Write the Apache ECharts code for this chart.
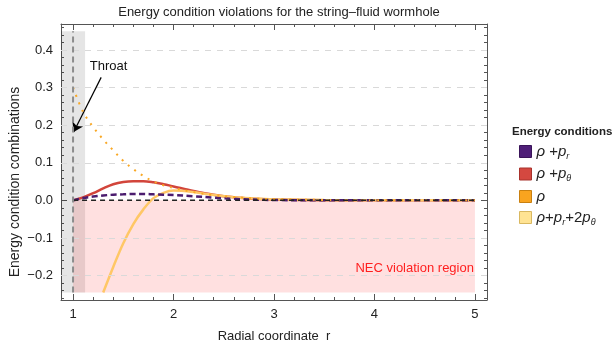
<!DOCTYPE html>
<html>
<head>
<meta charset="utf-8">
<script src="https://cdn.jsdelivr.net/npm/echarts@6/dist/echarts.min.js"></script>
<style>
  html, body { margin: 0; padding: 0; background: #fff; }
  #chart { width: 614px; height: 343px; }
</style>
</head>
<body>
<div id="chart"></div>
<script>
// radial coordinate samples
const r = [1.0, 1.1, 1.2, 1.3, 1.4, 1.5, 1.6, 1.7, 1.8, 1.9, 2.0, 2.2, 2.4, 2.6, 2.8, 3.0, 3.5, 4.0, 4.5, 5.0];
// values
const rhoPr = [0, 0.006, 0.010, 0.013, 0.015, 0.016, 0.017, 0.017, 0.016, 0.015, 0.014, 0.011, 0.007, 0.004, 0.002, 0.001, 0, 0, 0, 0];
const rhoPt = [0, 0.008, 0.019, 0.032, 0.043, 0.049, 0.051, 0.051, 0.048, 0.043, 0.037, 0.025, 0.015, 0.008, 0.004, 0.002, 0.0005, 0, 0, 0];
const rho = [0.30, 0.235, 0.195, 0.162, 0.133, 0.105, 0.083, 0.065, 0.050, 0.040, 0.033, 0.022, 0.014, 0.009, 0.005, 0.003, 0.001, 0, 0, 0];
const rhoSum = [null, null, null, -0.245, -0.177, -0.114, -0.063, -0.024, 0.006, 0.020, 0.026, 0.022, 0.014, 0.008, 0.005, 0.003, 0.001, 0, 0, 0];

const names = ['ρ +p_r', 'ρ +p_θ', 'ρ', 'ρ+p_r+2p_θ'];
const xTicks = [1, 2, 3, 4, 5];
const yTicks = [-0.2, -0.1, 0.0, 0.1, 0.2, 0.3, 0.4];
const gridY = [-0.2, -0.1, 0.1, 0.2, 0.3, 0.4];
const zeroLineX = [1, 5];
const throatX = [1, 1];
const throatY = [-0.245, 0.45];

// minor ticks: 4 between each pair of major ticks
function minors(major, lo, hi) {
  const step = (major[1] - major[0]) / 5;
  const out = [];
  for (let k = -5; k <= (major.length - 1) * 5 + 5; k++) {
    if (k % 5 === 0) continue;
    const val = +(major[0] + k * step).toFixed(4);
    if (val > lo && val < hi) out.push(val);
  }
  return out;
}

const XMIN = 0.88, XMAX = 5.12, YMIN = -0.265, YMAX = 0.469;
const xMinor = minors(xTicks, XMIN, XMAX);
const yMinor = minors(yTicks, YMIN, YMAX);
const frame = '#555';
const font = 'Liberation Sans, Arial, sans-serif';

function pairs(xs, ys) {
  return xs.map((x, i) => [x, ys[i]]);
}

function xAx(pos, major, label) {
  return {
    type: 'value', min: XMIN, max: XMAX, position: pos,
    axisLine: { show: major, onZero: false, lineStyle: { color: frame, width: 1 } },
    axisTick: { show: true, inside: true, length: major ? 6 : 3, customValues: major ? xTicks : xMinor, lineStyle: { color: frame } },
    axisLabel: label ? { show: true, customValues: xTicks, margin: 8, color: '#222', fontSize: 13, fontFamily: font } : { show: false },
    splitLine: { show: false },
    name: label ? 'Radial coordinate  r' : '',
    nameLocation: 'middle', nameGap: 30, nameMoveOverlap: false,
    nameTextStyle: { color: '#222', fontSize: 13, fontFamily: font }
  };
}

function yAx(pos, major, label) {
  return {
    type: 'value', min: YMIN, max: YMAX, position: pos,
    axisLine: { show: major, onZero: false, lineStyle: { color: frame, width: 1 } },
    axisTick: { show: true, inside: true, length: major ? 6 : 3, customValues: major ? yTicks : yMinor, lineStyle: { color: frame } },
    axisLabel: label ? {
      show: true, customValues: yTicks, margin: 8, color: '#222', fontSize: 13, fontFamily: font,
      formatter: v => (v < 0 ? '\u2212' : '') + Math.abs(v).toFixed(1)
    } : { show: false },
    splitLine: { show: false },
    name: label ? 'Energy condition combinations' : '',
    nameLocation: 'middle', nameGap: 39, nameMoveOverlap: false,
    nameTextStyle: { color: '#222', fontSize: 14, fontFamily: font, padding: [0, 40, 0, 0] }
  };
}

const legendRich = {
  i: { fontStyle: 'italic', fontSize: 15, fontFamily: font, color: '#222' },
  n: { fontSize: 15, fontFamily: font, color: '#222' },
  s: { fontStyle: 'italic', fontSize: 9, fontFamily: font, color: '#222', padding: [9, 0, 0, 0] }
};
const legendText = {
  'ρ +p_r': '{i|ρ}{n| +}{i|p}{s|r}',
  'ρ +p_θ': '{i|ρ}{n| +}{i|p}{s|θ}',
  'ρ': '{i|ρ}',
  'ρ+p_r+2p_θ': '{i|ρ}{n|+}{i|p}{s|r}{n|+2}{i|p}{s|θ}'
};
const swatch = [
  { color: '#4f1f78', borderColor: '#3a1459' },
  { color: '#d44840', borderColor: '#a8322c' },
  { color: '#f9a41f', borderColor: '#c98010' },
  { color: '#ffe393', borderColor: '#d9b860' }
];

const chart = echarts.init(document.getElementById('chart'));
chart.setOption({
  animation: false,
  backgroundColor: '#fff',
  title: [
    { text: 'Energy condition violations for the string\u2013fluid wormhole', left: 274, textAlign: 'center', top: 1,
      textStyle: { fontSize: 13, fontWeight: 'normal', color: '#222', fontFamily: font } },
    { text: 'Energy conditions', left: 507, top: 121,
      textStyle: { fontSize: 11.5, fontWeight: 'bold', color: '#222', fontFamily: font } }
  ],
  grid: { left: 61, right: 127, top: 24, bottom: 43, containLabel: false, outerBoundsMode: 'none' },
  legend: {
    orient: 'vertical', left: 514, top: 139, itemGap: 6,
    icon: 'rect', itemWidth: 12, itemHeight: 12,
    data: names.map((n, i) => ({ name: n, itemStyle: { color: swatch[i].color, borderColor: swatch[i].borderColor, borderWidth: 1 } })),
    formatter: n => legendText[n],
    textStyle: { rich: legendRich, lineHeight: 14 },
    selectedMode: false
  },
  xAxis: [xAx('bottom', true, true), xAx('bottom', false, false), xAx('top', true, false), xAx('top', false, false)],
  yAxis: [yAx('left', true, true), yAx('left', false, false), yAx('right', true, false), yAx('right', false, false)],
  series: [
    {
      // background: shaded throat band, NEC region, grid lines
      type: 'line', data: [], silent: true, z: 1,
      markArea: {
        silent: true,
        data: [
          [{ xAxis: XMIN, yAxis: -0.245, itemStyle: { color: 'rgba(0,0,0,0.1)' } }, { xAxis: 1.12, yAxis: 0.45 }],
          [{ xAxis: 1, yAxis: -0.245, itemStyle: { color: 'rgba(255,0,0,0.12)' },
             label: { show: true, position: 'insideBottomRight', distance: 18, offset: [17, 0], formatter: 'NEC violation region', color: '#ff2020', fontSize: 13, fontFamily: font } },
           { xAxis: 5, yAxis: 0 }]
        ]
      },
      markLine: {
        silent: true, symbol: 'none', label: { show: false },
        lineStyle: { color: '#d9d9d9', type: [6, 6], width: 1 },
        data: gridY.map(v => ({ yAxis: v }))
      }
    },
    {
      name: names[1], type: 'line', data: pairs(r, rhoPt), smooth: 0.35, showSymbol: false, z: 3,
      itemStyle: { color: '#d2453b' }, lineStyle: { color: '#d2453b', width: 2.5 }
    },
    {
      name: names[3], type: 'line', data: pairs(r, rhoSum), smooth: 0.35, showSymbol: false, z: 4,
      itemStyle: { color: '#ffc766' }, lineStyle: { color: '#ffc766', width: 2.5 }
    },
    {
      name: names[0], type: 'line', data: pairs(r, rhoPr), smooth: 0.35, showSymbol: false, z: 5,
      itemStyle: { color: '#4b1c6e' }, lineStyle: { color: '#4b1c6e', width: 2.5, type: [6, 3.5] }
    },
    {
      name: names[2], type: 'line', data: pairs(r, rho), smooth: 0.35, showSymbol: false, z: 6,
      itemStyle: { color: '#f9a825' }, lineStyle: { color: '#f9a825', width: 2, type: [2, 6] }
    },
    {
      // zero reference
      type: 'line', data: pairs(zeroLineX, [0, 0]), showSymbol: false, z: 7, silent: true,
      lineStyle: { color: '#222', width: 1.5, type: [5, 4] }
    },
    {
      // throat position
      type: 'line', data: pairs(throatX, throatY), showSymbol: false, z: 7, silent: true,
      lineStyle: { color: '#8c8c8c', width: 2, type: [6, 4] },
      markLine: {
        silent: true, symbol: ['none', 'arrow'], symbolSize: 9,
        label: { show: false },
        lineStyle: { color: '#000', width: 1.2, type: 'solid' },
        data: [[{ coord: [1.28, 0.327] }, { coord: [1.006, 0.182] }]]
      },
      markPoint: {
        silent: true, symbol: 'circle', symbolSize: 0,
        label: { show: true, position: 'inside', formatter: 'Throat', color: '#111', fontSize: 13, fontFamily: font },
        data: [{ coord: [1.354, 0.355] }]
      }
    }
  ]
});
</script>
</body>
</html>
